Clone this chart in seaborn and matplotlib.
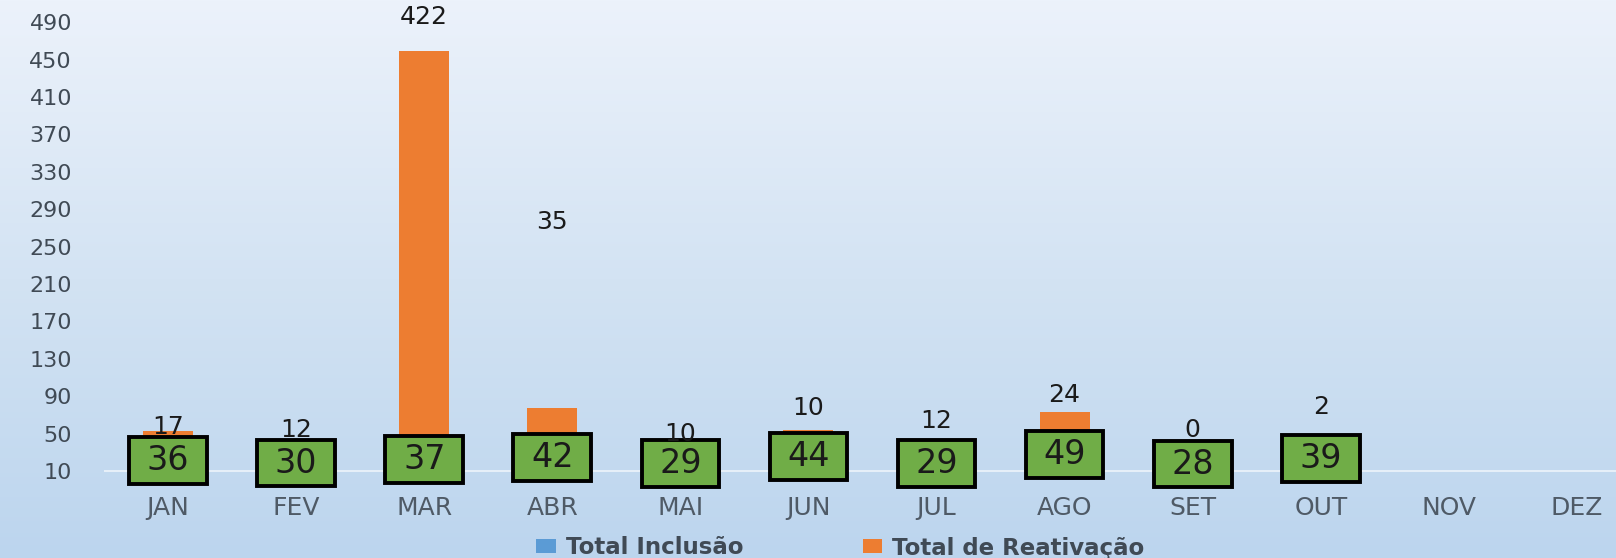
import numpy as np
import pandas as pd
import matplotlib
matplotlib.use('Agg')
import matplotlib.pyplot as plt
from matplotlib.patches import Rectangle, Patch
import seaborn as sns

# Dados
meses = ['JAN', 'FEV', 'MAR', 'ABR', 'MAI', 'JUN', 'JUL', 'AGO', 'SET', 'OUT', 'NOV', 'DEZ']
total_inclusao = [36, 30, 37, 42, 29, 44, 29, 49, 28, 39, np.nan, np.nan]
total_reativacao = [17, 12, 422, 35, 10, 10, 12, 24, 0, 2, np.nan, np.nan]
y_ticks = list(range(10, 491, 40))

# deslocamento manual dos rotulos laranja (pixels), como no original
desloc_rotulo = [-9, -2, 21, 173, -3, 9, 8, 4, 11, 22, 0, 0]

df = pd.DataFrame({'mes': meses, 'inclusao': total_inclusao, 'reativacao': total_reativacao})
df['total'] = df['inclusao'] + df['reativacao']

azul = '#5b9bd5'
laranja = '#ed7d31'
verde = '#70ad47'

sns.set_style('white')
plt.rcParams['font.family'] = ['DejaVu Sans']

fig = plt.figure(figsize=(16.16, 5.58), dpi=100)

# fundo em degrade
bg = fig.add_axes([0, 0, 1, 1], zorder=-10)
grad = np.linspace(0, 1, 256).reshape(-1, 1)
cmap = matplotlib.colors.LinearSegmentedColormap.from_list('fundo', ['#ecf2fb', '#d3e3f3', '#bcd5ee'])
bg.imshow(grad, aspect='auto', cmap=cmap, extent=[0, 1, 0, 1])
bg.axis('off')

ax = fig.add_axes([104 / 1616, 0.119, 1537 / 1616, 0.863])
ax.patch.set_alpha(0)

sns.barplot(data=df, x='mes', y='total', order=meses, color=laranja, width=0.39,
            saturation=1, linewidth=0, ax=ax, zorder=2)
sns.barplot(data=df, x='mes', y='inclusao', order=meses, color=azul, width=0.39,
            saturation=1, linewidth=0, ax=ax, zorder=3)

ax.set_ylim(-12, 503)
ax.set_xlim(-0.5, 11.5)
ax.axhline(10, color='white', lw=1.2, alpha=0.7, zorder=1)

# caixas verdes com valores de inclusao
box_w = 0.607
box_h = 50
for i, row in df.iterrows():
    if np.isnan(row['inclusao']):
        continue
    cy = row['inclusao'] / 2 + 3.5
    ax.add_patch(Rectangle((i - box_w / 2, cy - box_h / 2), box_w, box_h,
                           facecolor=verde, edgecolor='black', lw=2.8, zorder=4))
    ax.text(i, cy, f"{int(row['inclusao'])}", ha='center', va='center',
            fontsize=24, color='#1a1a1a', zorder=5)

# rotulos de reativacao
for i, row in df.iterrows():
    if np.isnan(row['reativacao']):
        continue
    ax.annotate(f"{int(row['reativacao'])}", (i, row['total']),
                xytext=(0, desloc_rotulo[i] + 1), textcoords='offset pixels',
                ha='center', va='bottom', fontsize=18, color='#1a1a1a', zorder=6)

ax.set_yticks(y_ticks)
ax.set_yticklabels([str(t) for t in y_ticks], fontsize=16, color='#404a55')
ax.tick_params(axis='y', length=0, pad=23)
ax.tick_params(axis='x', length=0, pad=3, labelsize=18, labelcolor='#4f5a66')
ax.set_xlabel('')
ax.set_ylabel('')
sns.despine(ax=ax, left=True, bottom=True)

handles = [Patch(facecolor=azul, edgecolor='none', label='Total Inclusão'),
           Patch(facecolor=laranja, edgecolor='none', label='Total de Reativação')]
leg = fig.legend(handles=handles, loc='center', bbox_to_anchor=(0.52, 1 - 548 / 558), ncol=2,
                 frameon=False, prop={'size': 16.5, 'weight': 'bold'}, handlelength=0.85,
                 handleheight=0.55, handletextpad=0.45, columnspacing=5.2, labelcolor='#404a55')

fig.savefig('out.png', dpi=100)
